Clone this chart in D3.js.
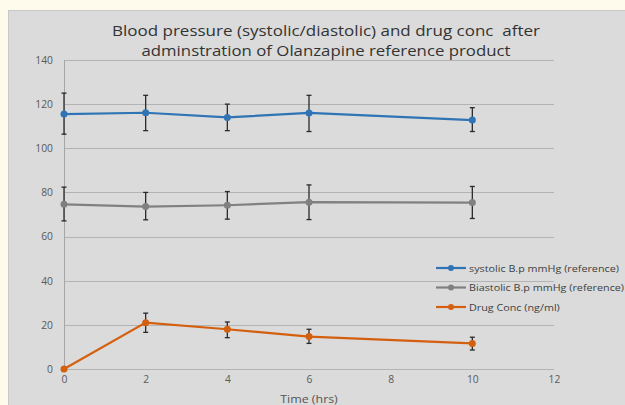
<!DOCTYPE html>
<html><head><meta charset="utf-8">
<script src="https://cdn.jsdelivr.net/npm/d3@7"></script>
<style>
html,body{margin:0;padding:0;background:#fffbec;}
svg{display:block;}
</style></head>
<body>
<svg id="chart" width="625" height="405"></svg>
<script>
const times = [0, 2, 4, 6, 10];
const systolic = [115.5, 116.1, 114, 116, 112.8];
const systolicErrLow = [106.4, 108, 108, 107.6, 107.6];
const systolicErrHigh = [125, 124, 120, 124, 118.4];
const diastolic = [74.6, 73.6, 74.2, 75.6, 75.4];
const diastolicErrLow = [67.1, 67.6, 67.9, 67.7, 68.2];
const diastolicErrHigh = [82.4, 80, 80.4, 83.4, 82.7];
const drugConc = [0, 21, 18, 14.7, 11.6];
const drugErrLow = [null, 16.6, 14.2, 11.6, 8.6];
const drugErrHigh = [null, 25.3, 21.3, 18, 14.4];
const seriesNames = ["systolic B.p mmHg (reference)", "Biastolic B.p mmHg (reference)", "Drug Conc (ng/ml)"];
const seriesColors = ["#2f74b5", "#808080", "#d4600f"];
const xTicks = [0, 2, 4, 6, 8, 10, 12];
const yTicks = [0, 20, 40, 60, 80, 100, 120, 140];
const titleLines = ["Blood pressure (systolic/diastolic) and drug conc  after", "adminstration of Olanzapine reference product"];
const xAxisTitle = "Time (hrs)";

const svg = d3.select("#chart");
const font = "'Open Sans', sans-serif";

// horizontal stretch helper (reference text is wider than its height suggests)
function stretch(sel, k) {
  sel.each(function () {
    const w = this.getComputedTextLength();
    d3.select(this).attr("textLength", w * k).attr("lengthAdjust", "spacingAndGlyphs");
  });
}

// panel
svg.append("rect").attr("x", 8.5).attr("y", 10.5).attr("width", 620).attr("height", 400)
  .attr("fill", "#dbdbdb").attr("stroke", "#c8c8c8");

const x = d3.scaleLinear().domain([0, 12]).range([64, 554]);
const y = d3.scaleLinear().domain([0, 140]).range([369, 60]);

// gridlines
svg.append("g").selectAll("line").data(yTicks).join("line")
  .attr("x1", x(0)).attr("x2", x(12))
  .attr("y1", d => Math.round(y(d)) + 0.5).attr("y2", d => Math.round(y(d)) + 0.5)
  .attr("stroke", "#b3b3b3").attr("stroke-width", 1);

// y axis line
svg.append("line").attr("x1", x(0) + 0.5).attr("x2", x(0) + 0.5).attr("y1", y(140)).attr("y2", y(0))
  .attr("stroke", "#a6a6a6");

// y tick labels
const yAxis = d3.axisLeft(y).tickValues(yTicks).tickSize(0).tickPadding(0);
const gy = svg.append("g").attr("transform", `translate(53,0)`).call(yAxis);
gy.select(".domain").remove();
gy.selectAll("text").attr("font-family", font).attr("font-size", 10.3).attr("fill", "#5a5a5a");

// x tick labels
const xAxis = d3.axisBottom(x).tickValues(xTicks).tickSize(0).tickPadding(0);
const gx = svg.append("g").attr("transform", `translate(0,376)`).call(xAxis);
gx.select(".domain").remove();
gx.selectAll("text").attr("font-family", font).attr("font-size", 10.3).attr("fill", "#5a5a5a");

// axis title
const xt = svg.append("text").attr("x", 309).attr("y", 403).attr("text-anchor", "middle")
  .attr("font-family", font).attr("font-size", 11.5).attr("fill", "#555").text(xAxisTitle);
stretch(xt, 1.08);

// title
const titleWidths = [428, 369];
svg.append("g").selectAll("text").data(titleLines).join("text")
  .attr("x", 326).attr("y", (d, i) => 35.5 + i * 20).attr("text-anchor", "middle")
  .attr("font-family", font).attr("font-size", 14).attr("fill", "#333")
  .style("white-space", "pre").attr("xml:space", "preserve")
  .text(d => d)
  .attr("textLength", (d, i) => titleWidths[i]).attr("lengthAdjust", "spacingAndGlyphs");

const series = [
  {vals: systolic, lo: systolicErrLow, hi: systolicErrHigh},
  {vals: diastolic, lo: diastolicErrLow, hi: diastolicErrHigh},
  {vals: drugConc, lo: drugErrLow, hi: drugErrHigh}
];

const line = d3.line().x(d => x(d[0])).y(d => y(d[1]));
series.forEach((s, si) => {
  const pts = times.map((t, i) => [t, s.vals[i], s.lo[i], s.hi[i]]);
  svg.append("path").datum(pts).attr("d", line).attr("fill", "none")
    .attr("stroke", seriesColors[si]).attr("stroke-width", 2.2);
  const eb = svg.append("g");
  pts.filter(p => p[2] != null).forEach(p => {
    const cx = x(p[0]);
    eb.append("line").attr("x1", cx).attr("x2", cx).attr("y1", y(p[2])).attr("y2", y(p[3]))
      .attr("stroke", "#2a2a2a").attr("stroke-width", 1.3);
    [p[2], p[3]].forEach(v => {
      eb.append("line").attr("x1", cx - 2.5).attr("x2", cx + 2.5).attr("y1", y(v)).attr("y2", y(v))
        .attr("stroke", "#2a2a2a").attr("stroke-width", 1.3);
    });
  });
  svg.append("g").selectAll("circle").data(pts).join("circle")
    .attr("cx", d => x(d[0])).attr("cy", d => y(d[1])).attr("r", 3.5)
    .attr("fill", seriesColors[si]);
});

// legend
const lg = svg.append("g").selectAll("g").data(seriesNames).join("g")
  .attr("transform", (d, i) => `translate(436,${268 + i * 19.5})`);
lg.append("line").attr("x1", 0).attr("x2", 30).attr("stroke", (d, i) => seriesColors[i]).attr("stroke-width", 2.2);
lg.append("circle").attr("cx", 15).attr("r", 3).attr("fill", (d, i) => seriesColors[i]);
const lt = lg.append("text").attr("x", 33).attr("y", 3.5).attr("font-family", font).attr("font-size", 9.8)
  .attr("fill", "#404040").text(d => d);
stretch(lt, 1.1);
</script>
</body></html>
